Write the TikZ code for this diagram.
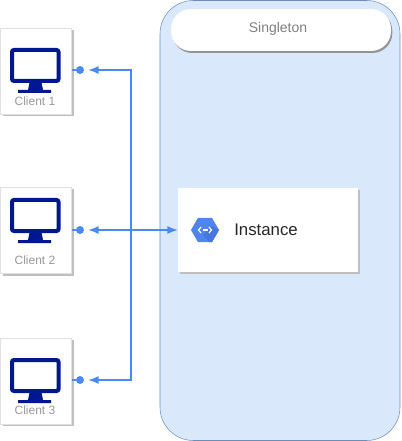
\documentclass[tikz,border=0pt]{standalone}
\usepackage{fontspec}
\setmainfont{Liberation Sans}
\usetikzlibrary{positioning, arrows.meta, shapes.geometric, shadows}

\definecolor{wire}{HTML}{4A88F5}
\definecolor{hexfill}{HTML}{5084EE}
\definecolor{hexdark}{HTML}{4876DE}
\definecolor{screen}{HTML}{00188F}
\definecolor{groupfill}{HTML}{DAE8FC}
\definecolor{groupline}{HTML}{6C8EBF}

\begin{document}
\begin{tikzpicture}[
    x=0.75pt, y=-0.75pt,
    groupbox/.style={rectangle, rounded corners=25pt, draw=groupline, fill=groupfill, anchor=north west, inner sep=0pt, outer sep=0pt, minimum width=180pt, minimum height=330pt},
    titlebar/.style={rectangle, rounded corners=15pt, fill=white, anchor=north west, inner sep=0pt, outer sep=0pt, minimum width=165pt, minimum height=31.5pt, drop shadow={shadow xshift=1pt, shadow yshift=-1.5pt, fill=black!42, opacity=1}},
    titletext/.style={text=black!50, font=\fontsize{10.5}{12}\selectfont, inner sep=0pt},
    card/.style={rectangle, fill=white, anchor=north west, inner sep=0pt, outer sep=0pt, drop shadow={shadow xshift=1.5pt, shadow yshift=-1.5pt, fill=black!25, opacity=1}},
    client/.style={card, draw=black!12, line width=0.4pt, minimum width=53.25pt, minimum height=64.5pt},
    clientname/.style={text=black!40, font=\fontsize{9}{11}\selectfont, inner sep=0pt},
    dot/.style={circle, fill=wire, inner sep=0pt, minimum size=6pt},
    stub/.style={draw=wire, line width=1.2pt},
    link/.style={draw=wire, line width=1.2pt, -{Latex[length=8pt, width=6pt]}},
    linkboth/.style={draw=wire, line width=1.2pt, {Latex[length=8pt, width=6pt]}-{Latex[length=8pt, width=6pt]}},
    monitor/.style={draw=screen, line width=3pt, fill=white, rounded corners=1.5pt},
    stand/.style={fill=screen}
]
\useasboundingbox (0, 0) rectangle (401, 441);

% === SINGLETON GROUP ===
\node[groupbox] (Group) at (160, 0.5) {};
\node[titlebar] (Title) at (171, 9) {};
\node[titletext] (TitleText) at (278, 29) {Singleton};

% Instance card
\node[card, minimum width=135pt, minimum height=63pt] (Card) at (178, 188) {};
\node[regular polygon, regular polygon sides=6, fill=hexfill, inner sep=0pt, minimum size=21pt] (Hex) at (205, 230) {};
\fill[hexdark] (203, 235) -- (212, 226) -- (219, 230) -- (212, 242) -- (209, 242) -- cycle;
\draw[white, line width=0.9pt] (201, 227) -- (198.5, 230) -- (201, 233);
\draw[white, line width=0.9pt] (209, 227) -- (211.5, 230) -- (209, 233);
\draw[white, line width=0.9pt] (202.5, 230) -- (207.5, 230);
\node[anchor=west, inner sep=0pt, font=\fontsize{12.6}{14}\selectfont, text=black!85] (Instance) at (234, 230) {Instance};

% === CLIENTS ===
% Client 1
\node[client] (Client1) at (0.5, 28) {};
\begin{scope}[shift={(0, 0)}]
    \fill[stand] (30, 80) -- (41, 80) -- (43, 90) -- (51, 90) -- (51, 93) -- (18, 93) -- (18, 90) -- (28, 90) -- cycle;
    \draw[monitor] (12, 50) rectangle (58.5, 81);
\end{scope}
\node[clientname] (Name1) at (35, 101.5) {Client 1};
\node[dot] (Dot1) at (80, 70) {};
\coordinate (Tip1) at (88, 70);

% Client 2
\node[client] (Client2) at (0.5, 187.5) {};
\begin{scope}[shift={(0, 150)}]
    \fill[stand] (30, 80) -- (41, 80) -- (43, 90) -- (51, 90) -- (51, 93) -- (18, 93) -- (18, 90) -- (28, 90) -- cycle;
    \draw[monitor] (12, 50) rectangle (58.5, 81);
\end{scope}
\node[clientname] (Name2) at (35, 260.5) {Client 2};
\node[dot] (Dot2) at (80, 230) {};
\coordinate (Tip2) at (88, 230);

% Client 3
\node[client] (Client3) at (0.5, 338) {};
\begin{scope}[shift={(0, 310)}]
    \fill[stand] (30, 80) -- (41, 80) -- (43, 90) -- (51, 90) -- (51, 93) -- (18, 93) -- (18, 90) -- (28, 90) -- cycle;
    \draw[monitor] (12, 50) rectangle (58.5, 81);
\end{scope}
\node[clientname] (Name3) at (35, 410.5) {Client 3};
\node[dot] (Dot3) at (80, 380) {};
\coordinate (Tip3) at (88, 380);

% === CONNECTORS ===
\coordinate (Bus) at (131, 230);
\draw[stub] (Client1.east |- Dot1) -- (Dot1);
\draw[stub] (Client2.east |- Dot2) -- (Dot2);
\draw[stub] (Client3.east |- Dot3) -- (Dot3);
\draw[link] (Bus) |- (Tip1);
\draw[link] (Bus) |- (Tip3);
\draw[linkboth] (Tip2) -- (Card.west |- Tip2);
\end{tikzpicture}
\end{document}
